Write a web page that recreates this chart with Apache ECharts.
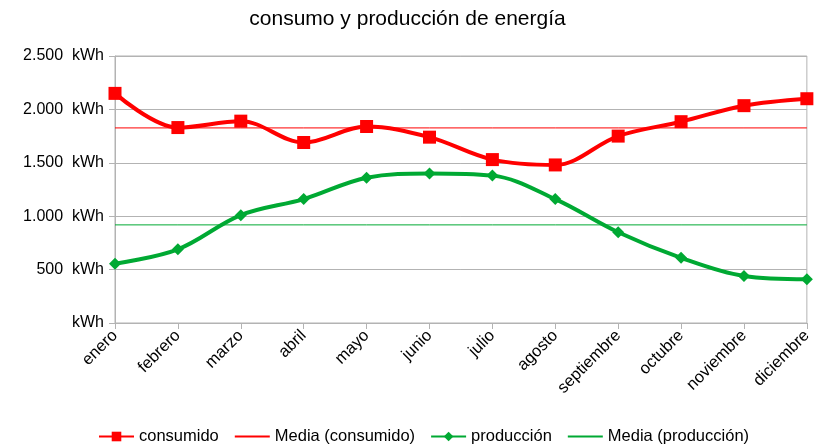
<!DOCTYPE html>
<html>
<head>
<meta charset="utf-8">
<script src="https://cdn.jsdelivr.net/npm/echarts@6/dist/echarts.min.js"></script>
<style>
  html, body { margin: 0; padding: 0; background: #fff; }
  #chart { width: 815px; height: 448px; }
</style>
</head>
<body>
<div id="chart"></div>
<script>
  // datos
  const meses = ['enero', 'febrero', 'marzo', 'abril', 'mayo', 'junio', 'julio',
    'agosto', 'septiembre', 'octubre', 'noviembre', 'diciembre']
  const consumido = [2150, 1830, 1890, 1690, 1840, 1740, 1530, 1480, 1750, 1885, 2035, 2100]
  const produccion = [555, 690, 1010, 1160, 1360, 1400, 1380, 1160, 850, 610, 440, 410]

  const media = arr => arr.reduce((a, b) => a + b, 0) / arr.length
  const mediaConsumido = meses.map(() => media(consumido))
  const mediaProduccion = meses.map(() => media(produccion))

  const rojo = '#ff0000'
  const verde = '#00a933'
  const gris = '#b3b3b3'
  const fuente = 'Liberation Sans'

  // 2500 -> "2.500  kWh"
  const formatoKwh = v => {
    if (v === 0) return 'kWh'
    return String(v).replace(/\B(?=(\d{3})+(?!\d))/g, '.') + '  kWh'
  }

  const chart = echarts.init(document.getElementById('chart'))
  chart.setOption({
    animation: false,
    textStyle: { fontFamily: fuente },
    title: {
      text: 'consumo y producción de energía',
      left: 'center',
      top: 4,
      textStyle: { fontFamily: fuente, fontSize: 21, fontWeight: 'normal', color: '#000' }
    },
    legend: {
      bottom: -2,
      left: 93,
      itemWidth: 35,
      itemHeight: 12,
      itemGap: 15,
      textStyle: { fontFamily: fuente, fontSize: 16.5, color: '#000' },
      data: [
        { name: 'consumido' },
        { name: 'Media (consumido)', itemStyle: { opacity: 0 } },
        { name: 'producción' },
        { name: 'Media (producción)', itemStyle: { opacity: 0 } }
      ]
    },
    grid: {
      left: 115,
      right: 5,
      top: 56,
      bottom: 125,
      show: true,
      borderColor: gris,
      borderWidth: 1
    },
    xAxis: {
      type: 'category',
      data: meses,
      boundaryGap: false,
      axisLine: { lineStyle: { color: gris } },
      axisTick: { show: true, length: 6, alignWithLabel: true, lineStyle: { color: gris } },
      axisLabel: { rotate: 45, fontSize: 16.5, color: '#000', margin: 10, interval: 0 }
    },
    yAxis: {
      type: 'value',
      min: 0,
      max: 2500,
      interval: 500,
      axisLine: { show: true, lineStyle: { color: gris } },
      axisTick: { show: true, length: 6, lineStyle: { color: gris } },
      splitLine: { lineStyle: { color: gris } },
      axisLabel: { fontSize: 16, color: '#000', margin: 11, formatter: formatoKwh }
    },
    series: [
      {
        name: 'consumido',
        type: 'line',
        data: consumido,
        smooth: 0.35,
        symbol: 'rect',
        symbolSize: 13,
        lineStyle: { color: rojo, width: 4 },
        itemStyle: { color: rojo },
        z: 4
      },
      {
        name: 'Media (consumido)',
        type: 'line',
        data: mediaConsumido,
        symbol: 'none',
        lineStyle: { color: rojo, width: 1 },
        itemStyle: { color: rojo },
        z: 3
      },
      {
        name: 'producción',
        type: 'line',
        data: produccion,
        smooth: 0.35,
        symbol: 'diamond',
        symbolSize: 12,
        lineStyle: { color: verde, width: 4 },
        itemStyle: { color: verde },
        z: 4
      },
      {
        name: 'Media (producción)',
        type: 'line',
        data: mediaProduccion,
        symbol: 'none',
        lineStyle: { color: verde, width: 1 },
        itemStyle: { color: verde },
        z: 3
      }
    ]
  })
</script>
</body>
</html>
